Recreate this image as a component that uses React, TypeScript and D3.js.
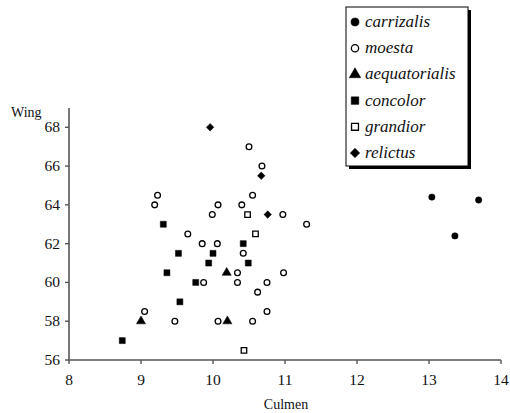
import React from "react";
import * as d3 from "d3";

// culmen (x) / wing (y) pairs per subspecies
const carrizalis = [[13.04, 64.4], [13.69, 64.25], [13.36, 62.4]];
const moesta = [
  [10.5, 67], [10.68, 66], [9.23, 64.5], [10.55, 64.5], [9.19, 64], [10.07, 64], [10.4, 64],
  [9.99, 63.5], [10.97, 63.5], [11.3, 63], [9.65, 62.5], [9.85, 62], [10.06, 62], [10.42, 61.5],
  [10.34, 60.5], [10.98, 60.5], [9.87, 60], [10.34, 60], [10.75, 60], [10.62, 59.5], [9.05, 58.5],
  [10.75, 58.5], [9.47, 58], [10.07, 58], [10.55, 58],
];
const aequatorialis = [[9.0, 58], [10.2, 58], [10.19, 60.5]];
const concolor = [
  [8.74, 57], [9.31, 63], [9.52, 61.5], [10.0, 61.5], [10.42, 62], [9.94, 61], [10.49, 61],
  [9.36, 60.5], [9.76, 60], [9.54, 59],
];
const grandior = [[10.48, 63.5], [10.59, 62.5], [10.43, 56.5]];
const relictus = [[9.96, 68], [10.67, 65.5], [10.76, 63.5]];

const xTicks = [8, 9, 10, 11, 12, 13, 14];
const yTicks = [56, 58, 60, 62, 64, 66, 68];

const series = [
  { name: "carrizalis", data: carrizalis, type: d3.symbolCircle, size: 32, open: false, rot: 0 },
  { name: "moesta", data: moesta, type: d3.symbolCircle, size: 26, open: true, rot: 0 },
  { name: "aequatorialis", data: aequatorialis, type: d3.symbolTriangle, size: 36, open: false, rot: 0 },
  { name: "concolor", data: concolor, type: d3.symbolSquare, size: 36, open: false, rot: 0 },
  { name: "grandior", data: grandior, type: d3.symbolSquare, size: 30, open: true, rot: 0 },
  { name: "relictus", data: relictus, type: d3.symbolSquare, size: 28, open: false, rot: 45 },
];

const font = "Liberation Serif, DejaVu Serif, serif";

export default function App() {
  const x = d3.scaleLinear().domain([8, 14]).range([69, 501]);
  const y = d3.scaleLinear().domain([56, 68]).range([360, 127.3]);
  const top = y(69);

  const legendX = 346;
  const legendY = 7;
  const legendW = 122;
  const legendH = 159;
  const rowY = (i: number) => 22 + i * 26.2;

  return (
    <svg width={510} height={413} style={{ position: "absolute", left: 0, top: 0, background: "#fff", fontFamily: font }}>
      {/* axes */}
      <line x1={x(8)} x2={x(8)} y1={top} y2={y(56)} stroke="#555" strokeWidth={1.6} />
      <line x1={x(8)} x2={x(14)} y1={y(56)} y2={y(56)} stroke="#555" strokeWidth={1.6} />
      {yTicks.map((t) => (
        <g key={"y" + t}>
          <line x1={x(8) - 4} x2={x(8)} y1={y(t)} y2={y(t)} stroke="#555" strokeWidth={1.4} />
          <text x={x(8) - 9} y={y(t) + 5} textAnchor="end" style={{ fontFamily: font }} fontSize={15.5} fill="#111">
            {t}
          </text>
        </g>
      ))}
      {xTicks.map((t) => (
        <g key={"x" + t}>
          <line x1={x(t)} x2={x(t)} y1={y(56)} y2={y(56) + 4} stroke="#555" strokeWidth={1.4} />
          <text x={x(t)} y={y(56) + 25} textAnchor="middle" style={{ fontFamily: font }} fontSize={15.5} fill="#111">
            {t}
          </text>
        </g>
      ))}
      <text x={286} y={409} textAnchor="middle" style={{ fontFamily: font }} fontSize={14} fill="#111">Culmen</text>
      <text x={11} y={117} style={{ fontFamily: font }} fontSize={14} fill="#111">Wing</text>

      {/* points */}
      {series.map((s) => {
        const path = d3.symbol().type(s.type).size(s.size)() as string;
        return (
          <g key={s.name}>
            {s.data.map((d, i) => (
              <path
                key={i}
                d={path}
                transform={`translate(${x(d[0])},${y(d[1])}) rotate(${s.rot})`}
                fill={s.open ? "#fff" : "#000"}
                stroke="#000"
                strokeWidth={s.open ? 1.3 : 0.5}
              />
            ))}
          </g>
        );
      })}

      {/* legend */}
      <rect x={legendX + 3} y={legendY + 3} width={legendW} height={legendH} fill="#000" />
      <rect x={legendX} y={legendY} width={legendW} height={legendH} fill="#fff" stroke="#000" strokeWidth={1} />
      {series.map((s, i) => {
        const path = d3.symbol().type(s.type).size(s.size * 1.6)() as string;
        return (
          <g key={"l" + s.name}>
            <path
              d={path}
              transform={`translate(355,${rowY(i)}) rotate(${s.rot})`}
              fill={s.open ? "#fff" : "#000"}
              stroke="#000"
              strokeWidth={s.open ? 1.3 : 0.5}
            />
            <text x={365} y={rowY(i) + 5} style={{ fontFamily: font, fontStyle: "italic" }} fontSize={17} fill="#111">
              {s.name}
            </text>
          </g>
        );
      })}
    </svg>
  );
}
